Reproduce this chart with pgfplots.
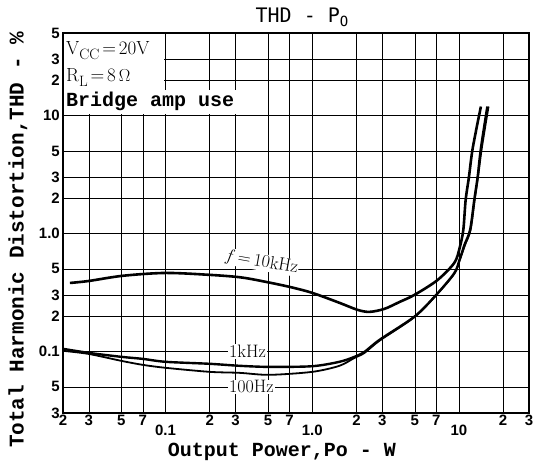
\documentclass[border=0pt]{standalone}
\usepackage{fontspec}
\usepackage{pgfplots}
\pgfplotsset{compat=1.18}
\newfontfamily\tickfont{Liberation Sans}
\newfontfamily\labfont{Liberation Mono}
\newfontfamily\titfont{DejaVu Sans Mono}
\newcommand\D[1]{\smash{\raisebox{-10pt}{#1}}}
\newcommand\E[1]{#1\hspace{8pt}}
\pgfplotstableread{
x y
0.0223 0.380
0.03 0.395
0.051 0.437
0.1 0.462
0.2 0.445
0.32 0.425
0.45 0.395
0.7 0.352
1.0 0.313
1.53 0.258
2.03 0.225
2.45 0.216
3.1 0.229
3.93 0.262
4.97 0.301
7.1 0.40
9.29 0.562
10.1 0.753
10.7 1.07
11.1 1.92
11.7 3.03
12.4 5.27
14.1 11.9
}\tenk
\pgfplotstableread{
x y
0.02 0.105
0.03 0.097
0.05 0.0898
0.07 0.0863
0.1 0.0815
0.2 0.0784
0.32 0.0754
0.51 0.0738
1.0 0.0748
1.53 0.0815
1.94 0.0898
2.27 0.099
2.87 0.125
4.97 0.197
6.97 0.30
9.29 0.46
10.1 0.60
10.9 0.80
11.9 1.07
12.7 1.92
13.4 3.03
14.1 5.27
15.6 11.9
}\onek
\pgfplotstableread{
x y
0.02 0.101
0.03 0.095
0.05 0.083
0.07 0.0768
0.1 0.0725
0.2 0.067
0.32 0.0657
0.51 0.0632
1.0 0.067
1.53 0.0754
1.94 0.088
2.27 0.097
2.87 0.123
4.97 0.195
6.97 0.298
9.29 0.455
10.1 0.59
11.0 0.80
12.0 1.07
12.8 1.92
13.5 3.03
14.3 5.27
15.9 11.9
}\hundred
\begin{document}
\begin{tikzpicture}[x=1pt,y=1pt]
\begin{axis}[
  at={(63pt,53pt)}, anchor=south west,
  scale only axis, width=466pt, height=380pt,
  xmode=log, ymode=log,
  xmin=0.02, xmax=30, ymin=0.03, ymax=50,
  xtick={0.02,0.03,0.05,0.07,0.1,0.2,0.3,0.5,0.7,1,2,3,5,7,10,20,30},
  xticklabels={2,3,5,7,\D{0.1},2,3,5,7,\D{1.0},2,3,5,7,\D{10},2,3},
  ytick={0.03,0.05,0.1,0.2,0.3,0.5,1,2,3,5,10,20,30,50},
  yticklabels={3,5,\E{0.1},2,3,5,\E{1.0},2,3,5,\E{10},2,3,5},
  minor xtick={}, minor ytick={},
  grid=major,
  major grid style={black, line width=0.6pt},
  major tick length=0pt,
  axis line style={line width=1.2pt},
  xticklabel style={font=\tickfont\bfseries\fontsize{15}{15}\selectfont, anchor=north, inner sep=0pt, text height=11pt, text depth=0pt, yshift=-1pt},
  yticklabel style={font=\tickfont\bfseries\fontsize{15}{15}\selectfont, anchor=east, inner sep=0pt, xshift=-3pt},
]
\fill[white] (axis cs:0.02,50) rectangle (axis cs:0.098,16.4);
\fill[white] (axis cs:0.02,16.4) rectangle (axis cs:0.36,10.3);
\addplot[black, line width=2.6pt, smooth, tension=0.5] table {\tenk};
\addplot[black, line width=2.4pt, smooth, tension=0.5] table {\onek};
\addplot[black, line width=1.8pt, smooth, tension=0.5] table {\hundred};
\draw[line width=1.2pt] (rel axis cs:0,0) rectangle (rel axis cs:1,1);
\node[rotate=-10, fill=white, inner sep=0.5pt, font=\fontsize{18}{18}\selectfont] at (axis cs:0.45,0.57) {$f$\,=\,10kHz};
\node[fill=white, inner sep=1pt, font=\fontsize{18}{18}\selectfont] at (axis cs:0.362,0.1) {1kHz};
\node[fill=white, inner sep=1pt, font=\fontsize{18}{18}\selectfont] at (axis cs:0.385,0.05) {100Hz};
\end{axis}
\node[anchor=base west, inner sep=0pt, font=\fontsize{19}{19}\selectfont] at (66,411) {V\raisebox{-5pt}{\fontsize{15}{15}\selectfont CC}$\,$=$\,$20V};
\node[anchor=base west, inner sep=0pt, font=\fontsize{19}{19}\selectfont] at (66,384) {R\raisebox{-5pt}{\fontsize{15}{15}\selectfont L}$\,$=$\,$8$\,\Omega$};
\node[anchor=base west, inner sep=0pt, font=\labfont\bfseries\fontsize{20}{20}\selectfont] at (66,359) {Bridge amp use};
\node[anchor=base, inner sep=0pt, font=\titfont\fontsize{20}{20}\selectfont] at (302,443) {THD - P\raisebox{-4pt}{\fontsize{14}{14}\selectfont O}};
\node[anchor=base, inner sep=0pt, font=\labfont\bfseries\fontsize{20}{20}\selectfont] at (282,10) {Output Power,Po - W};
\node[rotate=90, inner sep=0pt, font=\labfont\bfseries\fontsize{21}{21}\selectfont] at (18,226) {Total Harmonic Distortion,THD - \%};
\pgfresetboundingbox
\path (0,0) rectangle (535,466);
\end{tikzpicture}
\end{document}
